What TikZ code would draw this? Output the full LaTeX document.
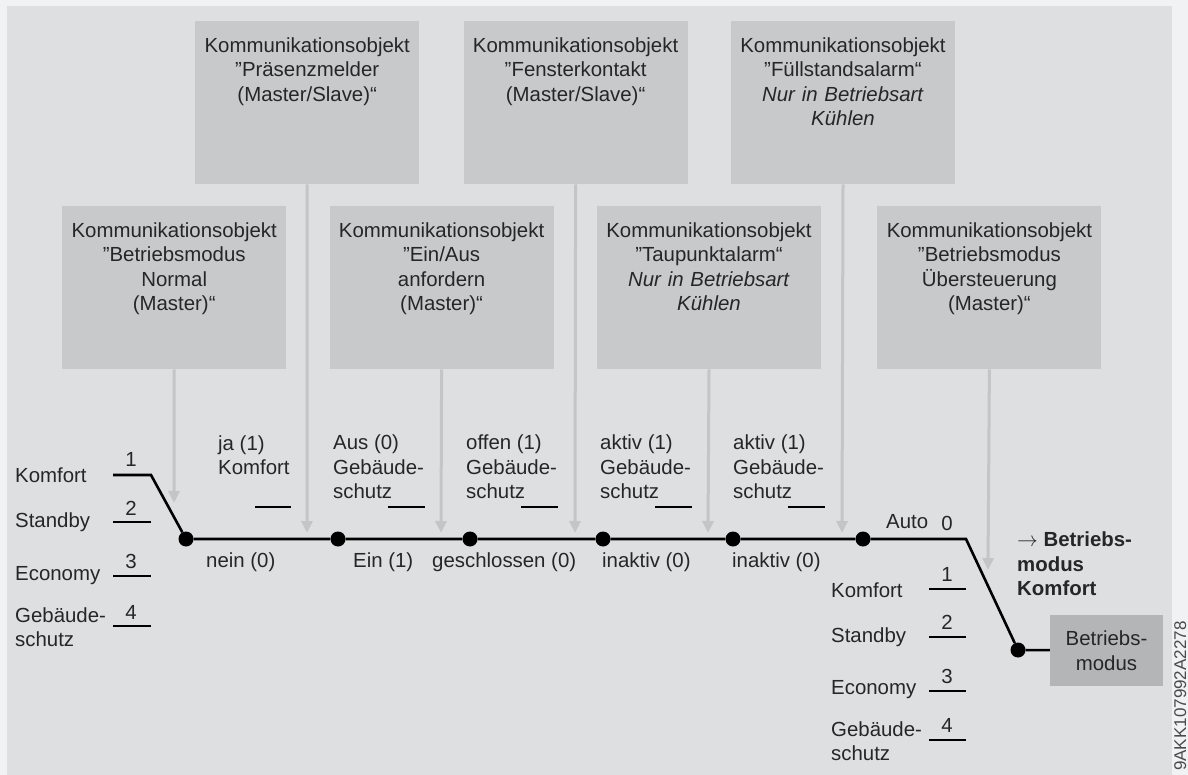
\documentclass[tikz,border=0pt]{standalone}
\usepackage{fontspec}
\setmainfont{Liberation Sans}
\usepackage{xcolor}
\usetikzlibrary{arrows.meta,positioning}

\definecolor{pagebg}{HTML}{F1F2F3}
\definecolor{panelbg}{HTML}{DEDFE1}
\definecolor{objgray}{HTML}{C8C9CB}
\definecolor{modgray}{HTML}{B4B5B7}
\definecolor{feedgray}{HTML}{C4C5C7}
\definecolor{ink}{HTML}{262626}
\definecolor{codegray}{HTML}{4A4A4A}

\newcommand{\lblfont}{\fontsize{20.4}{24.5}\selectfont}

\begin{document}
\begin{tikzpicture}[
  x=1pt, y=-1pt,
  node distance=43pt and 43pt,
  obj/.style={fill=objgray, anchor=north west, text width=216pt, align=center,
    inner xsep=4pt, inner ysep=16pt, text height=15pt, text depth=116pt,
    font=\lblfont, text=ink},
  lbl/.style={font=\lblfont, text=ink, inner sep=0pt, align=left},
  num/.style={font=\lblfont, text=ink, inner sep=0pt},
  feed/.style={draw=feedgray, line width=3pt,
    -{Triangle[width=11pt, length=12pt, fill=feedgray]}},
  wire/.style={draw=black, line width=2.6pt},
  pin/.style={circle, fill=black, minimum size=15pt, inner sep=0pt}
]

% background
\fill[pagebg] (0,0) rectangle (1188,775);
\fill[panelbg] (7,6) rectangle (1172,775);

% communication objects, upper row
\node[obj] (praes) at (195,21)
  {Kommunikationsobjekt\\”Präsenzmelder\\(Master/Slave)“};
\node[obj, right=44pt of praes] (fenster)
  {Kommunikationsobjekt\\”Fensterkontakt\\(Master/Slave)“};
\node[obj, right=of fenster] (fuell)
  {Kommunikationsobjekt\\”Füllstandsalarm“\\\textit{Nur in Betriebsart}\\\textit{Kühlen}};

% communication objects, lower row
\node[obj] (normal) at (62,206)
  {Kommunikationsobjekt\\”Betriebsmodus\\Normal\\(Master)“};
\node[obj, right=of normal] (einaus)
  {Kommunikationsobjekt\\”Ein/Aus\\anfordern\\(Master)“};
\node[obj, right=of einaus] (taupunkt)
  {Kommunikationsobjekt\\”Taupunktalarm“\\\textit{Nur in Betriebsart}\\\textit{Kühlen}};
\node[obj, right=56pt of taupunkt] (uebers)
  {Kommunikationsobjekt\\”Betriebsmodus\\Übersteuerung\\(Master)“};

% switch points
\node[pin] (d1) at (186,539) {};
\node[pin] (d2) at (338,539) {};
\node[pin] (d3) at (470,539) {};
\node[pin] (d4) at (603,539) {};
\node[pin] (d5) at (733,539) {};
\node[pin] (d6) at (863,539) {};
\node[pin] (d7) at (1018,650) {};

% result
\node[fill=modgray, minimum width=113pt, minimum height=71pt, align=center,
  font=\lblfont, text=ink] (modus) at (1106.5,650.5) {Betriebs-\\modus};

% feeds from the objects
\coordinate (inNormal) at (174,503);
\coordinate (inPraes) at (307,533);
\coordinate (inEinaus) at (441,533);
\coordinate (inFenster) at (575,533);
\coordinate (inTau) at (708,533);
\coordinate (inFuell) at (842,533);
\coordinate (inUebers) at (988,570);

\draw[feed] (normal.south) -- (inNormal);
\draw[feed] (praes.south) -- (inPraes);
\draw[feed] (einaus.south) -- (inEinaus);
\draw[feed] (fenster.south) -- (inFenster);
\draw[feed] (taupunkt.south) -- (inTau);
\draw[feed] (fuell.south) -- (inFuell);
\draw[feed] (uebers.south) -- (inUebers);

% first selector: Betriebsmodus Normal
\coordinate (k1) at (113,475); \coordinate (k1e) at (151,475);
\coordinate (k2) at (113,522); \coordinate (k2e) at (151,522);
\coordinate (k3) at (113,576); \coordinate (k3e) at (151,576);
\coordinate (k4) at (113,626); \coordinate (k4e) at (151,626);
\draw[wire] (k1) -- (k1e) -- (d1);
\draw[wire] (k2) -- (k2e);
\draw[wire] (k3) -- (k3e);
\draw[wire] (k4) -- (k4e);
\node[num] (n1) at (131,459) {1};
\node[num] (n2) at (131,508) {2};
\node[num] (n3) at (131,561) {3};
\node[num] (n4) at (131,612) {4};
\node[lbl, anchor=west] (komf1) at (15,475) {Komfort};
\node[lbl, anchor=west] (stand1) at (15,522) {Standby};
\node[lbl, anchor=west] (econ1) at (15,576) {Economy};
\node[lbl, anchor=west] (geb1) at (15,627) {Gebäude-\\schutz};

% on/off contacts along the line
\coordinate (j1) at (255,507); \coordinate (j1e) at (291,507);
\coordinate (j2) at (388,507); \coordinate (j2e) at (425,507);
\coordinate (j3) at (521,507); \coordinate (j3e) at (558,507);
\coordinate (j4) at (655,507); \coordinate (j4e) at (692,507);
\coordinate (j5) at (788,507); \coordinate (j5e) at (825,507);
\draw[wire] (j1) -- (j1e);
\draw[wire] (j2) -- (j2e);
\draw[wire] (j3) -- (j3e);
\draw[wire] (j4) -- (j4e);
\draw[wire] (j5) -- (j5e);

\node[lbl, anchor=west] (ja) at (218,455) {ja (1)\\Komfort};
\node[lbl, anchor=west] (aus) at (333,467) {Aus (0)\\Gebäude-\\schutz};
\node[lbl, anchor=west] (offen) at (466,467) {offen (1)\\Gebäude-\\schutz};
\node[lbl, anchor=west] (aktiv1) at (600,467) {aktiv (1)\\Gebäude-\\schutz};
\node[lbl, anchor=west] (aktiv2) at (733,467) {aktiv (1)\\Gebäude-\\schutz};

\node[lbl, anchor=west] (nein) at (206,562) {nein (0)};
\node[lbl, anchor=west] (ein) at (353,562) {Ein (1)};
\node[lbl, anchor=west] (geschl) at (432,562) {geschlossen (0)};
\node[lbl, anchor=west] (inakt1) at (602,562) {inaktiv (0)};
\node[lbl, anchor=west] (inakt2) at (732,562) {inaktiv (0)};

% main line
\coordinate (a0) at (966,539);
\draw[wire] (d1) -- (d2) -- (d3) -- (d4) -- (d5) -- (d6) -- (a0) -- (d7) -- (modus);

% second selector: Betriebsmodus Uebersteuerung
\coordinate (r1) at (929,589); \coordinate (r1e) at (966,589);
\coordinate (r2) at (929,637); \coordinate (r2e) at (966,637);
\coordinate (r3) at (929,691); \coordinate (r3e) at (966,691);
\coordinate (r4) at (929,740); \coordinate (r4e) at (966,740);
\draw[wire] (r1) -- (r1e);
\draw[wire] (r2) -- (r2e);
\draw[wire] (r3) -- (r3e);
\draw[wire] (r4) -- (r4e);
\node[num] (m0) at (947,523) {0};
\node[num] (m1) at (947,574) {1};
\node[num] (m2) at (947,622) {2};
\node[num] (m3) at (947,676) {3};
\node[num] (m4) at (947,725) {4};
\node[lbl, anchor=west] (auto) at (886,522) {Auto};
\node[lbl, anchor=west] (komf2) at (831,590) {Komfort};
\node[lbl, anchor=west] (stand2) at (831,637) {Standby};
\node[lbl, anchor=west] (econ2) at (831,690) {Economy};
\node[lbl, anchor=west] (geb2) at (831,741) {Gebäude-\\schutz};

\node[lbl, anchor=west, font=\lblfont\bfseries] (result) at (1017,564)
  {$\rightarrow$ Betriebs-\\modus\\Komfort};

% drawing code
\node[rotate=90, anchor=base west, inner sep=0pt, text=codegray,
  font=\fontsize{17}{17}\selectfont] (code) at (1186,771) {9AKK107992A2278};

\end{tikzpicture}
\end{document}
